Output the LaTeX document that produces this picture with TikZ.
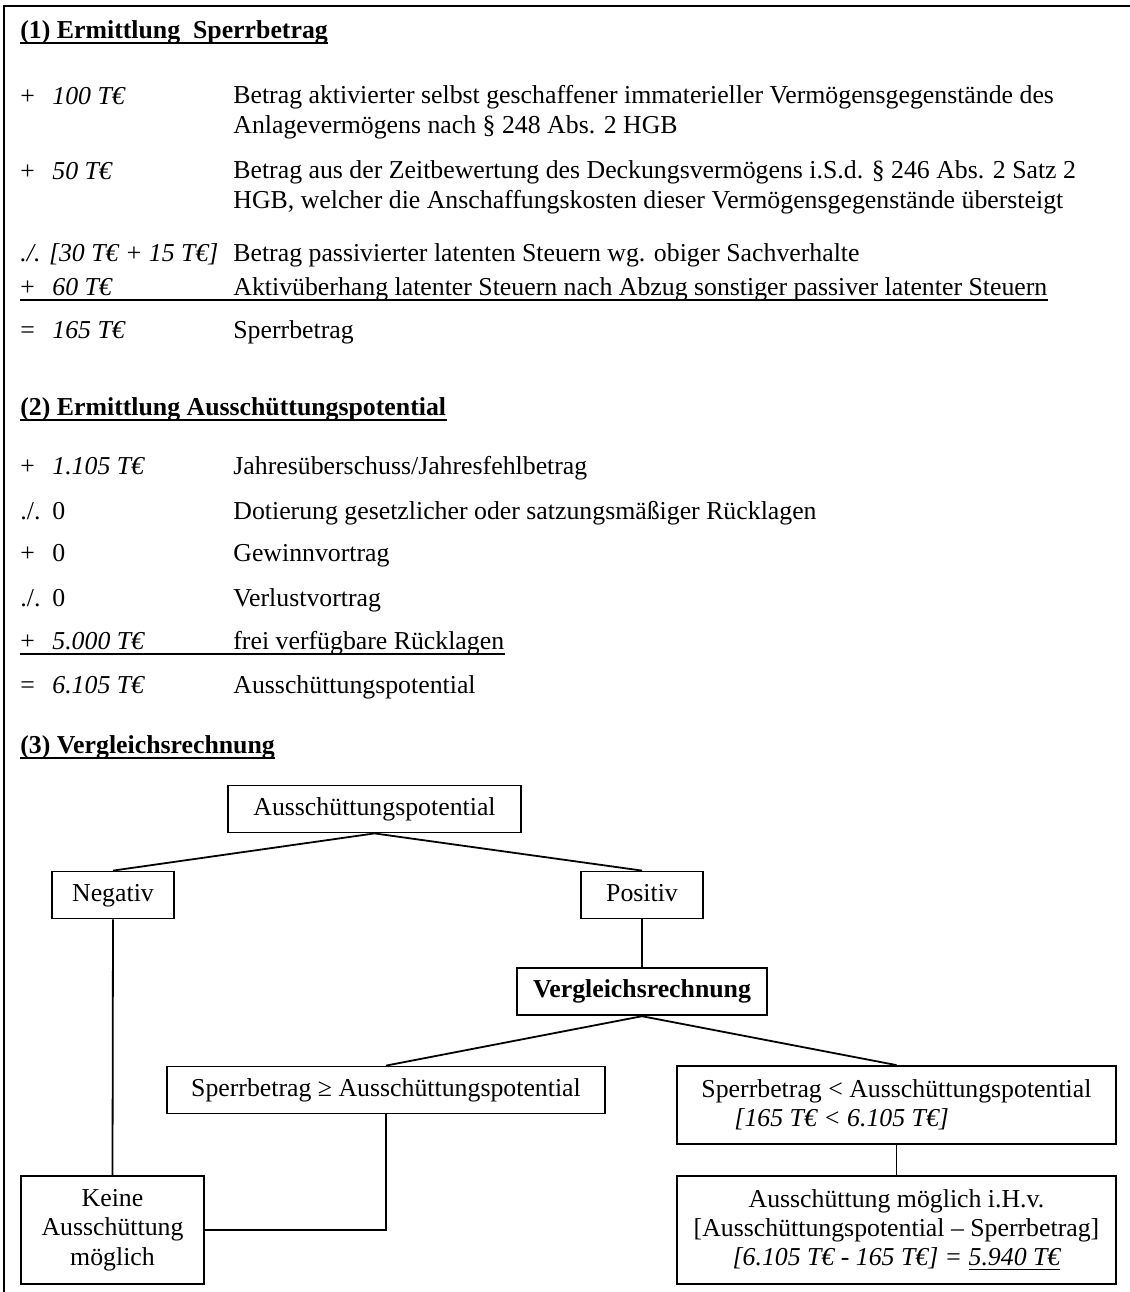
\documentclass[tikz,border=0pt]{standalone}
\usepackage{fontspec}
\setmainfont{Liberation Serif}
\usetikzlibrary{positioning}
\tikzstyle{box} = [draw, line width=0.9pt, text=black, align=center, inner xsep=0pt, minimum height=23.5pt]
\tikzstyle{sbox} = [box, text height=9pt, text depth=3pt]
\tikzstyle{row} = [anchor=base west, inner sep=0pt, align=left]
\tikzstyle{tedge} = [draw, line width=0.9pt]
\tikzstyle{uline} = [draw, line width=0.7pt]
\newcommand{\betrag}[2]{\makebox[16pt][l]{#1}#2}

\begin{document}
\begin{tikzpicture}[x=0.5pt, y=-0.5pt, font=\fontsize{12.9}{14.7}\selectfont]
\useasboundingbox (0,0) rectangle (1130,1292);
\draw[line width=1pt] (4,1292) -- (4,6) -- (1130,6);

% (1) Sperrbetrag ============================
\node[row] (h1) at (20,38) {\textbf{(1) Ermittlung\ \ Sperrbetrag}};
\path[uline, line width=1pt] ([yshift=-2.5pt]h1.base west) -- ([yshift=-2.5pt]h1.base east);

\node[row] (a1) at (20,104) {\betrag{+}{\textit{100 T€}}};
\node[row] (d1) at (233,133) {Betrag aktivierter selbst geschaffener immaterieller Vermögensgegenstände des\\Anlagevermögens nach § 248 Abs. 2 HGB};
\node[row] (a2) at (20,179) {\betrag{+}{\textit{50 T€}}};
\node[row] (d2) at (233,208) {Betrag aus der Zeitbewertung des Deckungsvermögens i.S.d. § 246 Abs. 2 Satz 2\\HGB, welcher die Anschaffungskosten dieser Vermögensgegenstände übersteigt};
\node[row] (a3) at (20,261) {\textit{./. [30 T€ + 15 T€]}};
\node[row] (d3) at (233,261) {Betrag passivierter latenten Steuern wg. obiger Sachverhalte};
\node[row] (a4) at (20,295) {\betrag{+}{\textit{60 T€}}};
\node[row] (d4) at (233,295) {Aktivüberhang latenter Steuern nach Abzug sonstiger passiver latenter Steuern};
\path[uline] ([yshift=-2.5pt]a4.base west) -- ([yshift=-2.5pt]d4.base east);
\node[row] (a5) at (20,338) {\betrag{=}{\textit{165 T€}}};
\node[row] (d5) at (233,338) {Sperrbetrag};

% (2) Ausschuettungspotential ================
\node[row] (h2) at (20,415) {\textbf{(2) Ermittlung Ausschüttungspotential}};
\path[uline, line width=1pt] ([yshift=-2.5pt]h2.base west) -- ([yshift=-2.5pt]h2.base east);

\node[row] (b1) at (20,474) {\betrag{+}{\textit{1.105 T€}}};
\node[row] (e1) at (233,474) {Jahresüberschuss/Jahresfehlbetrag};
\node[row] (b2) at (20,519) {\betrag{./.}{0}};
\node[row] (e2) at (233,519) {Dotierung gesetzlicher oder satzungsmäßiger Rücklagen};
\node[row] (b3) at (20,561) {\betrag{+}{0}};
\node[row] (e3) at (233,561) {Gewinnvortrag};
\node[row] (b4) at (20,606) {\betrag{./.}{0}};
\node[row] (e4) at (233,606) {Verlustvortrag};
\node[row] (b5) at (20,649) {\betrag{+}{\textit{5.000 T€}}};
\node[row] (e5) at (233,649) {frei verfügbare Rücklagen};
\path[uline] ([yshift=-2.5pt]b5.base west) -- ([yshift=-2.5pt]e5.base east);
\node[row] (b6) at (20,693) {\betrag{=}{\textit{6.105 T€}}};
\node[row] (e6) at (233,693) {Ausschüttungspotential};

% (3) Vergleichsrechnung =====================
\node[row] (h3) at (20,753) {\textbf{(3) Vergleichsrechnung}};
\path[uline, line width=1pt] ([yshift=-2.5pt]h3.base west) -- ([yshift=-2.5pt]h3.base east);

\node[sbox, minimum width=146.5pt] (ausp) at (374.5,809) {Ausschüttungspotential};
\node[sbox, minimum width=61pt] (neg) at (113,895) {Negativ};
\node[sbox, minimum width=61pt] (pos) at (642,895) {Positiv};
\node[sbox, minimum width=125pt, below=24pt of pos] (verg) {\textbf{Vergleichsrechnung}};
\node[sbox, minimum width=219pt] (sge) at (386,1090) {Sperrbetrag ≥ Ausschüttungspotential};
\node[box, minimum width=219.5pt, minimum height=39pt, align=left] (slt) at (896.5,1105)
  {Sperrbetrag < Ausschüttungspotential\\\hspace*{16.5pt}\textit{[165 T€ < 6.105 T€]}};
\node[box, minimum width=91.5pt, minimum height=54pt] (keine) at (112.5,1230) {Keine\\Ausschüttung\\möglich};
\node[box, minimum width=219.5pt, minimum height=54pt, below=15pt of slt] (moegl)
  {Ausschüttung möglich i.H.v.\\{}[Ausschüttungspotential -- Sperrbetrag]\\\textit{[6.105 T€ - 165 T€] = \underline{5.940 T€}}};

% edges
\path[tedge] (ausp.south) -- (neg.north);
\path[tedge] (ausp.south) -- (pos.north);
\path[tedge] (pos.south) -- (verg.north);
\path[tedge] (verg.south) -- (sge.north);
\path[tedge] (verg.south) -- (slt.north);
\path[tedge] (neg.south) -- (keine.north);
\path[tedge] (sge.south) |- (keine.east);
\path[tedge] (slt.south) -- (moegl.north);

\end{tikzpicture}
\end{document}
